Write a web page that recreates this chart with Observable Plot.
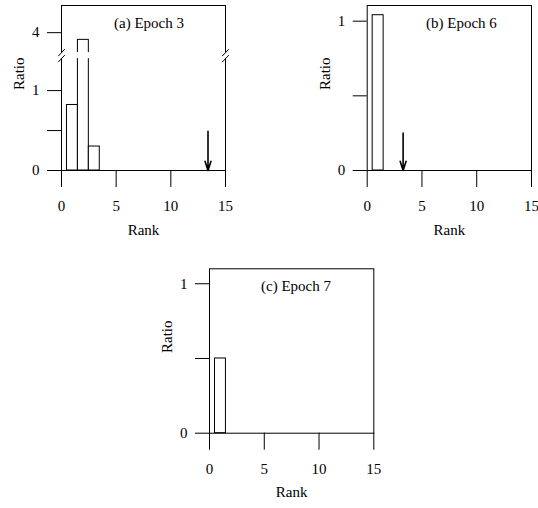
<!DOCTYPE html>
<html>
<head>
<meta charset="utf-8">
<script src="https://cdn.jsdelivr.net/npm/d3@7"></script>
<script src="https://cdn.jsdelivr.net/npm/@observablehq/plot@0.6"></script>
<style>
  body { margin: 0; background: #fff; }
  #fig { position: relative; width: 538px; height: 508px; overflow: hidden; background: #fff; }
  #fig svg { position: absolute; overflow: visible; }
</style>
</head>
<body>
<div id="fig"></div>
<script>
// Panel titles and where they sit along the rank axis
const panelTitles = ["(a) Epoch 3", "(b) Epoch 6", "(c) Epoch 7"];
const titleRanks = [8, 8.6, 7.9];

// Axis ticks
const rankTicks = [0, 5, 10, 15];
const ratioTicksA = [0, 0.5, 1, 4];
const ratioTicks = [0, 0.5, 1];

// Histogram bars: rank bin and ratio
const ranksA = [1, 2, 3];
const ratiosA = [0.82, 3.91, 0.30];
const ranksB = [1];
const ratiosB = [1.04];
const ranksC = [1];
const ratiosC = [0.5];

// Down-arrow markers: rank position and tail height
const markerRanks = [13.4, 3.28];
const markerTops = [0.49, 0.25];

// Broken ratio axis in panel (a): values between breakLow and breakHigh are cut out
const breakLow = 1.4;
const breakHigh = 3.75;
const breakGap = 0.075;   // visible gap left at the cut, in ratio units
const ratioMaxA = 4.34;

// Maps a ratio onto the cut axis (identity below the cut, shifted down above it)
const cutAxis = v => v <= breakLow ? v : v >= breakHigh ? v - (breakHigh - breakLow) + breakGap
  : breakLow + (v - breakLow) / (breakHigh - breakLow) * breakGap;
const plainAxis = v => v;

const FONT = "Liberation Serif, Times New Roman, serif";

function bars(ranks, ratios) {
  return ranks.map((r, i) => ({rank: r, ratio: ratios[i]}));
}

function panel({title, titleRank, data, yTicks, yMax, f, marker, size, margins, broken}) {
  const tickLabel = new Map(yTicks.map(v => [f(v), v === 0.5 ? "" : String(v)]));
  const marks = [
    Plot.rectY(data, {x1: d => d.rank - 0.5, x2: d => d.rank + 0.5, y1: 0, y2: d => f(d.ratio),
      fill: "white", stroke: "black", strokeWidth: 1}),
    Plot.frame({stroke: "black", strokeWidth: 1})
  ];
  if (marker) {
    marks.push(Plot.arrow([marker], {x1: "rank", x2: "rank", y1: d => f(d.top), y2: 0,
      stroke: "black", strokeWidth: 1.6, headLength: 9, headAngle: 36}));
  }
  if (broken) {
    const lo = f(breakLow), hi = f(breakHigh);
    const half = 0.044;   // half height of each slash, in axis units
    const slashes = [0, 15].flatMap(x => [lo, hi].map(c => ({x1: x - 0.3, x2: x + 0.3, y1: c - half, y2: c + half})));
    marks.push(Plot.rect([0], {x1: -0.4, x2: 15.4, y1: lo, y2: hi, fill: "white"}));
    marks.push(Plot.link(slashes, {x1: "x1", x2: "x2", y1: "y1", y2: "y2", stroke: "black", strokeWidth: 1}));
  }
  marks.push(
    Plot.axisX(rankTicks, {tickSize: 17, tickPadding: 13, fontSize: 15, label: null, stroke: "black", fill: "black"}),
    Plot.axisY(yTicks.map(f), {tickSize: 14, tickPadding: 8, fontSize: 15, label: null, stroke: "black", fill: "black",
      tickFormat: d => tickLabel.get(d)}),
    Plot.text([title], {x: titleRank, frameAnchor: "top", dy: 12, fontSize: 15, fill: "black"}),
    Plot.text(["Rank"], {frameAnchor: "bottom", dy: 64, fontSize: 15, fill: "black"}),
    Plot.text(["Ratio"], {frameAnchor: "left", dx: -42, dy: 2, rotate: -90, fontSize: 15, fill: "black"})
  );
  const svg = Plot.plot({
    width: size.width,
    height: size.height,
    ...margins,
    style: {fontFamily: FONT, fontSize: "15px", background: "transparent", color: "black"},
    x: {domain: [0, 15]},
    y: {domain: [0, f(yMax)]},
    marks
  });
  svg.style.left = size.left + "px";
  svg.style.top = size.top + "px";
  return svg;
}

const fig = document.getElementById("fig");

fig.appendChild(panel({
  title: panelTitles[0], titleRank: titleRanks[0],
  data: bars(ranksA, ratiosA), yTicks: ratioTicksA,
  yMax: ratioMaxA, f: cutAxis,
  marker: {rank: markerRanks[0], top: markerTops[0]},
  size: {left: 0, top: 0, width: 260, height: 250},
  margins: {marginLeft: 61, marginRight: 35, marginTop: 5, marginBottom: 80},
  broken: true
}));

fig.appendChild(panel({
  title: panelTitles[1], titleRank: titleRanks[1],
  data: bars(ranksB, ratiosB), yTicks: ratioTicks,
  yMax: 1.105, f: plainAxis,
  marker: {rank: markerRanks[1], top: markerTops[1]},
  size: {left: 270, top: 0, width: 268, height: 250},
  margins: {marginLeft: 96.7, marginRight: 7, marginTop: 5, marginBottom: 80}
}));

fig.appendChild(panel({
  title: panelTitles[2], titleRank: titleRanks[2],
  data: bars(ranksC, ratiosC), yTicks: ratioTicks,
  yMax: 1.1, f: plainAxis,
  marker: null,
  size: {left: 150, top: 255, width: 260, height: 253},
  margins: {marginLeft: 59, marginRight: 36.7, marginTop: 13.3, marginBottom: 75.3}
}));
</script>
</body>
</html>
